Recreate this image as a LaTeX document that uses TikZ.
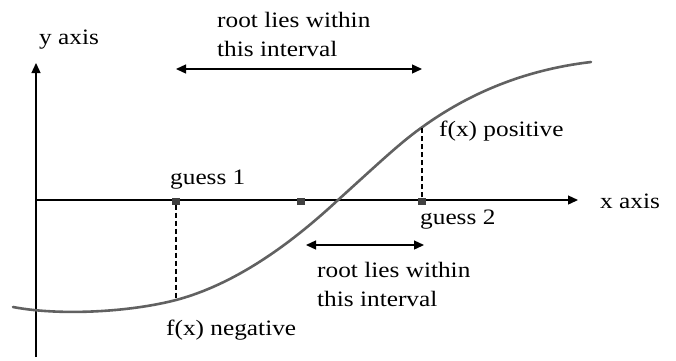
\documentclass[tikz,border=0pt]{standalone}
\usepackage{fontspec}
\setmainfont[FakeStretch=1.15]{Liberation Serif}
\usetikzlibrary{arrows.meta}
\tikzset{
  lbl/.style={inner sep=0pt, anchor=west, font=\fontsize{22}{29}\selectfont, align=left},
  axis/.style={line width=1.3pt, -{Triangle[length=10pt,width=9pt]}},
  dbl/.style={line width=1.3pt, {Triangle[length=10pt,width=9pt]}-{Triangle[length=10pt,width=9pt]}},
  guessmark/.style={fill=black!75, minimum width=8pt, minimum height=7pt, inner sep=0pt, draw=none, rectangle},
  dashline/.style={line width=1.2pt, dash pattern=on 5pt off 3pt},
  curve/.style={line width=2.6pt, draw=black!62, line cap=round}
}
\begin{document}
\begin{tikzpicture}[x=1pt,y=-1pt]
\useasboundingbox (0,0) rectangle (676,360);
% axes
\coordinate (yb) at (36,357);
\coordinate (yt) at (36,63);
\coordinate (xl) at (37,200);
\coordinate (xr) at (578,200);
\draw[axis] (yb) -- (yt);
\draw[axis] (xl) -- (xr);
% curve
\coordinate (c0) at (13,307);
\coordinate (c1) at (176,300);
\coordinate (c2) at (338,200);
\coordinate (c3) at (421,128);
\coordinate (c4) at (591,62);
\draw[curve] (c0) .. controls (60,316) and (130,312) .. (c1)
  .. controls (240,283) and (297,238) .. (c2)
  .. controls (380,162) and (400,143) .. (c3)
  .. controls (480,85) and (540,68) .. (c4);
% markers
\node[guessmark] (g1) at (176,201) {};
\node[guessmark] (gm) at (301,201) {};
\node[guessmark] (g2) at (422,201) {};
\coordinate (g1c) at (176,299);
\coordinate (g2c) at (422,128);
\draw[dashline] (g1) -- (g1c);
\draw[dashline] (g2) -- (g2c);
% interval arrows
\coordinate (ta) at (176,69);
\coordinate (tb) at (422,69);
\draw[dbl] (ta) -- (tb);
\coordinate (ba) at (306,245);
\coordinate (bb) at (424,245);
\draw[dbl] (ba) -- (bb);
% labels
\node[lbl] (ylab) at (39,40) {y axis};
\node[lbl] (xlab) at (600,201) {x axis};
\node[lbl] (toplab) at (217,34) {root lies within\\this interval};
\node[lbl] (botlab) at (317,284) {root lies within\\this interval};
\node[lbl] (gl1) at (170,180) {guess 1};
\node[lbl] (gl2) at (420,220) {guess 2};
\node[lbl] (fpos) at (439,131) {f(x) positive};
\node[lbl] (fneg) at (166,330) {f(x) negative};
\end{tikzpicture}
\end{document}
